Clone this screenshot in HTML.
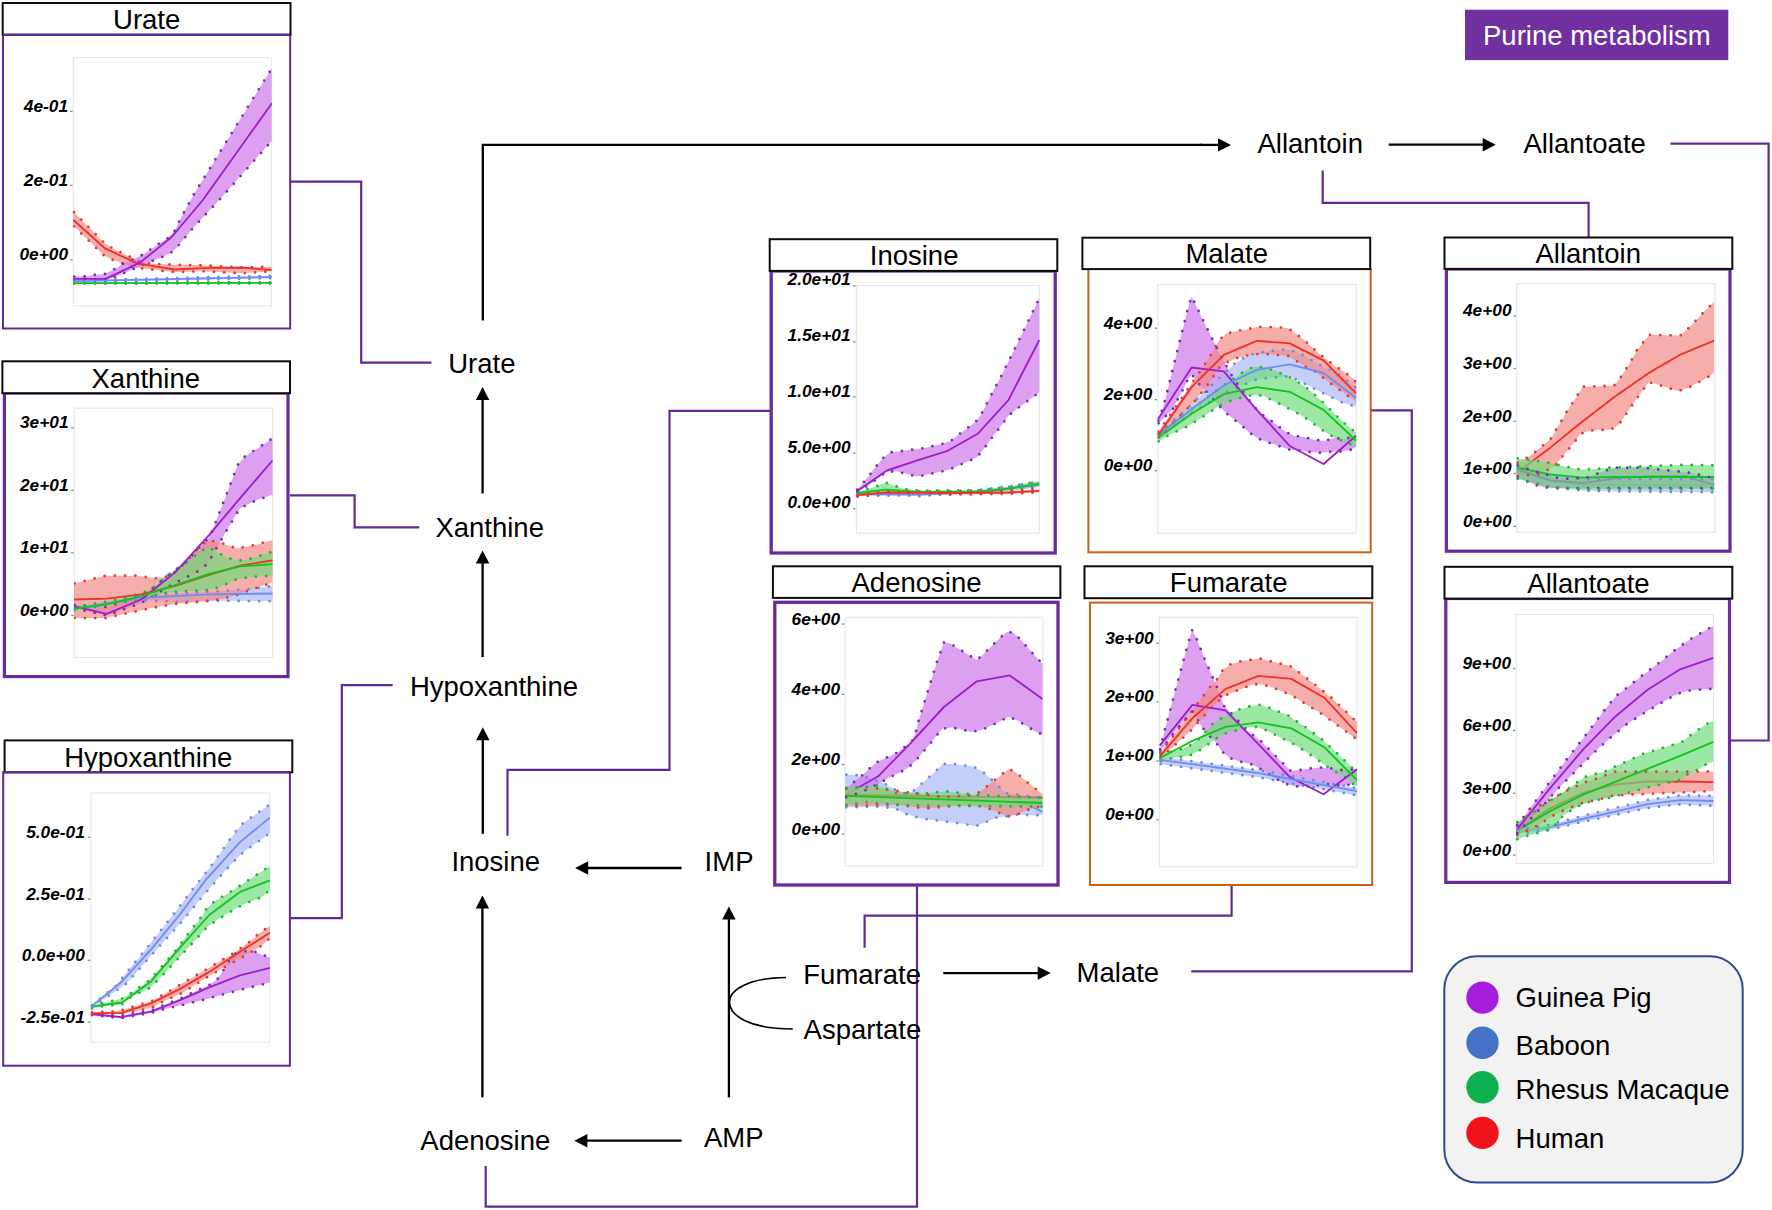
<!DOCTYPE html>
<html lang="en"><head><meta charset="utf-8"><title>Purine metabolism</title>
<style>
html,body{margin:0;padding:0;background:#fff;}
body{width:1772px;height:1210px;overflow:hidden;}
svg{display:block;}
text{font-family:'Liberation Sans', Arial, Helvetica, sans-serif;fill:#000;}
.tk{font-size:17.3px;font-weight:bold;font-style:italic;text-anchor:end;}
.tt{font-size:27.5px;text-anchor:middle;}
.lb{font-size:27.5px;}
.lg{font-size:27.5px;}
</style></head><body>
<svg width="1772" height="1210" viewBox="0 0 1772 1210">
<rect width="1772" height="1210" fill="#fff"/>
<g id="connectors">
<polyline points="290,181.7 361.2,181.7 361.2,362.7 431.4,362.7" fill="none" stroke="#5f2a92" stroke-width="2.2" stroke-linejoin="miter"/>
<polyline points="290,495.3 354.6,495.3 354.6,527.4 419.3,527.4" fill="none" stroke="#5f2a92" stroke-width="2.2" stroke-linejoin="miter"/>
<polyline points="290.6,918.2 341.8,918.2 341.8,685.2 392.7,685.2" fill="none" stroke="#5f2a92" stroke-width="2.2" stroke-linejoin="miter"/>
<polyline points="771,410.8 669.5,410.8 669.5,769.9 507.5,769.9 507.5,835.7" fill="none" stroke="#5f2a92" stroke-width="2.2" stroke-linejoin="miter"/>
<polyline points="485.7,1166 485.7,1206.6 917,1206.6 917,885" fill="none" stroke="#5f2a92" stroke-width="2.2" stroke-linejoin="miter"/>
<polyline points="864.6,947.7 864.6,915.6 1231.6,915.6 1231.6,885" fill="none" stroke="#5f2a92" stroke-width="2.2" stroke-linejoin="miter"/>
<polyline points="1191.2,971.4 1411.8,971.4 1411.8,410.3 1371.2,410.3" fill="none" stroke="#5f2a92" stroke-width="2.2" stroke-linejoin="miter"/>
<polyline points="1322.7,170.4 1322.7,202.8 1588.6,202.8 1588.6,238" fill="none" stroke="#5f2a92" stroke-width="2.2" stroke-linejoin="miter"/>
<polyline points="1670.5,143.7 1768.6,143.7 1768.6,740.5 1731,740.5" fill="none" stroke="#5f2a92" stroke-width="2.2" stroke-linejoin="miter"/>
</g>
<g class="panel">
<rect x="3" y="34.9" width="287.2" height="293.6" fill="#fff" stroke="#5f2a92" stroke-width="2"/>
<rect x="73.3" y="57.6" width="198.3" height="248.4" fill="#fff" stroke="#e6e6ea" stroke-width="1.1"/>
<clipPath id="c0"><rect x="72.8" y="57.6" width="199.3" height="248.4"/></clipPath>
<g clip-path="url(#c0)">
<polygon points="73.3,282.5 271.6,282.3 271.6,283.5 73.3,283.7" fill="#6ddc78" fill-opacity="0.68"/>
<polygon points="73.3,280.2 271.6,275.8 271.6,278.2 73.3,282.2" fill="#a8b7f4" fill-opacity="0.68"/>
<polygon points="73.3,211.5 103.5,242.2 111.9,248.1 139.9,261.7 149.6,263.6 174.3,264.7 202.9,265.3 241.8,267.5 271.6,266.8 271.6,271.2 241.8,273.3 202.9,271.3 174.3,272.1 134,267.5 113.2,260 104.2,255.8 73.3,225.6" fill="#f18881" fill-opacity="0.68"/>
<polygon points="73.3,276.6 84,276.6 94.4,275 104.8,274 113.9,269.5 123.6,263.6 141.8,255.2 159.4,243.5 167.8,238.3 174.9,230.5 179.5,220.8 184,212.3 194.4,193.4 271.6,68.6 271.6,141 221.7,197.3 193.1,227.9 179.5,244.2 172.3,251.9 163.2,256.5 153.5,260.4 134,268.8 124.9,272.7 105.5,280.6 73.3,280.6" fill="#cd73e9" fill-opacity="0.68"/>
<polyline points="73.3,282.5 271.6,282.3" fill="none" stroke="#1eb53a" stroke-width="2.8" stroke-linecap="round" stroke-dasharray="0 10.3" stroke-dashoffset="-1"/>
<polyline points="73.3,283.7 271.6,283.5" fill="none" stroke="#1eb53a" stroke-width="2.8" stroke-linecap="round" stroke-dasharray="0 10.3" stroke-dashoffset="-1"/>
<polyline points="73.3,280.2 271.6,275.8" fill="none" stroke="#6f8be0" stroke-width="2.8" stroke-linecap="round" stroke-dasharray="0 10.3" stroke-dashoffset="-1"/>
<polyline points="73.3,282.2 271.6,278.2" fill="none" stroke="#6f8be0" stroke-width="2.8" stroke-linecap="round" stroke-dasharray="0 10.3" stroke-dashoffset="-1"/>
<polyline points="73.3,211.5 103.5,242.2 111.9,248.1 139.9,261.7 149.6,263.6 174.3,264.7 202.9,265.3 241.8,267.5 271.6,266.8" fill="none" stroke="#e23a36" stroke-width="2.8" stroke-linecap="round" stroke-dasharray="0 10.3" stroke-dashoffset="-1"/>
<polyline points="73.3,225.6 104.2,255.8 113.2,260 134,267.5 174.3,272.1 202.9,271.3 241.8,273.3 271.6,271.2" fill="none" stroke="#e23a36" stroke-width="2.8" stroke-linecap="round" stroke-dasharray="0 10.3" stroke-dashoffset="-1"/>
<polyline points="73.3,276.6 84,276.6 94.4,275 104.8,274 113.9,269.5 123.6,263.6 141.8,255.2 159.4,243.5 167.8,238.3 174.9,230.5 179.5,220.8 184,212.3 194.4,193.4 271.6,68.6" fill="none" stroke="#7a2db8" stroke-width="2.8" stroke-linecap="round" stroke-dasharray="0 10.3" stroke-dashoffset="-1"/>
<polyline points="73.3,280.6 105.5,280.6 124.9,272.7 134,268.8 153.5,260.4 163.2,256.5 172.3,251.9 179.5,244.2 193.1,227.9 221.7,197.3 271.6,141" fill="none" stroke="#7a2db8" stroke-width="2.8" stroke-linecap="round" stroke-dasharray="0 10.3" stroke-dashoffset="-1"/>
<polyline points="73.3,283.1 271.7,282.9" fill="none" stroke="#12c41e" stroke-width="1.85" stroke-linejoin="round"/>
<polyline points="73.3,281.2 271.7,277" fill="none" stroke="#6f8cf2" stroke-width="1.85" stroke-linejoin="round"/>
<polyline points="73.3,220 105.5,248.7 137.9,263.6 174.3,269.5 202.9,268.2 241.8,267.5 271.7,270.1" fill="none" stroke="#f0302c" stroke-width="1.85" stroke-linejoin="round"/>
<polyline points="73.3,278.8 105.5,278.8 140.5,262.3 171.7,237 202.9,200 271.9,103.2" fill="none" stroke="#9b1fd0" stroke-width="1.85" stroke-linejoin="round"/>
</g>
<text x="68" y="111.9" class="tk">4e-01</text>
<line x1="70.1" y1="111.5" x2="72.5" y2="111.5" stroke="#8a8a8a" stroke-width="1.3"/>
<text x="68" y="185.8" class="tk">2e-01</text>
<line x1="70.1" y1="185.4" x2="72.5" y2="185.4" stroke="#8a8a8a" stroke-width="1.3"/>
<text x="68" y="260.2" class="tk">0e+00</text>
<line x1="70.1" y1="259.8" x2="72.5" y2="259.8" stroke="#8a8a8a" stroke-width="1.3"/>
<rect x="2.7" y="3" width="287.8" height="31.6" fill="#fff" stroke="#0d0d0d" stroke-width="2"/>
<text x="146.7" y="28.8" class="tt">Urate</text>
<line x1="3" y1="34.9" x2="290.2" y2="34.9" stroke="#5f2a92" stroke-width="2"/>
</g>
<g class="panel">
<rect x="4.4" y="393" width="283.6" height="283.6" fill="#fff" stroke="#672b9d" stroke-width="3.2"/>
<rect x="74.4" y="408.2" width="198.2" height="249.4" fill="#fff" stroke="#e6e6ea" stroke-width="1.1"/>
<clipPath id="c1"><rect x="73.9" y="408.2" width="199.2" height="249.4"/></clipPath>
<g clip-path="url(#c1)">
<polygon points="73.6,607.5 141.3,595.5 209,592 249.7,589 272.5,586 272.5,601.2 218.4,600.8 176.9,602 141.3,600 73.6,610" fill="#a8b7f4" fill-opacity="0.68"/>
<polygon points="73.6,604.8 106.6,607 141.3,596 152.3,588.4 168.4,574.9 185.3,563 195.5,551.2 208.2,538.5 211.6,532.6 219.2,513.1 226.8,493.6 237.8,464.8 244.6,456.8 261.6,445.7 272.5,438.4 272.5,494.8 258.2,499.5 248.9,503.8 239.5,508.8 234.5,517.3 223.4,535.9 213.3,553.7 208.2,563 200.6,569.8 191.3,574.9 175,583 141.3,603 106.6,615.5 73.6,608" fill="#cd73e9" fill-opacity="0.68"/>
<polygon points="73.6,583.6 105.7,575.7 136.2,575.7 156.5,578.3 170,576 185.3,563 195.5,551.2 207.4,540.2 218.4,541.9 237,548.6 257.3,544.4 272.5,540 272.5,582.6 259.9,586.8 249.7,590.1 239.5,594.4 218.4,599.5 198,602 176.9,603.7 156.5,607.1 136.2,611.3 116.7,615.5 105.7,618.1 73.6,618.1" fill="#f18881" fill-opacity="0.68"/>
<polygon points="73.6,607.1 106.6,602 141.3,593.5 152.3,588.4 168.4,574.9 185.3,563 195.5,555.4 207.4,547 215.8,551.2 224.3,556.3 233.6,559.7 243.8,560.5 253.1,558 263.3,554.6 272.5,551.8 272.5,575.6 257.3,576.6 247.2,577.4 237,579.1 227.7,583.4 217.5,587.6 207.4,590.1 187,591 166.7,592.7 141.3,598.6 73.6,610.5" fill="#6ddc78" fill-opacity="0.68"/>
<polyline points="73.6,607.5 141.3,595.5 209,592 249.7,589 272.5,586" fill="none" stroke="#6f8be0" stroke-width="2.8" stroke-linecap="round" stroke-dasharray="0 10.3" stroke-dashoffset="-1"/>
<polyline points="73.6,610 141.3,600 176.9,602 218.4,600.8 272.5,601.2" fill="none" stroke="#6f8be0" stroke-width="2.8" stroke-linecap="round" stroke-dasharray="0 10.3" stroke-dashoffset="-1"/>
<polyline points="73.6,604.8 106.6,607 141.3,596 152.3,588.4 168.4,574.9 185.3,563 195.5,551.2 208.2,538.5 211.6,532.6 219.2,513.1 226.8,493.6 237.8,464.8 244.6,456.8 261.6,445.7 272.5,438.4" fill="none" stroke="#7a2db8" stroke-width="2.8" stroke-linecap="round" stroke-dasharray="0 10.3" stroke-dashoffset="-1"/>
<polyline points="73.6,608 106.6,615.5 141.3,603 175,583 191.3,574.9 200.6,569.8 208.2,563 213.3,553.7 223.4,535.9 234.5,517.3 239.5,508.8 248.9,503.8 258.2,499.5 272.5,494.8" fill="none" stroke="#7a2db8" stroke-width="2.8" stroke-linecap="round" stroke-dasharray="0 10.3" stroke-dashoffset="-1"/>
<polyline points="73.6,583.6 105.7,575.7 136.2,575.7 156.5,578.3 170,576 185.3,563 195.5,551.2 207.4,540.2 218.4,541.9 237,548.6 257.3,544.4 272.5,540" fill="none" stroke="#e23a36" stroke-width="2.8" stroke-linecap="round" stroke-dasharray="0 10.3" stroke-dashoffset="-1"/>
<polyline points="73.6,618.1 105.7,618.1 116.7,615.5 136.2,611.3 156.5,607.1 176.9,603.7 198,602 218.4,599.5 239.5,594.4 249.7,590.1 259.9,586.8 272.5,582.6" fill="none" stroke="#e23a36" stroke-width="2.8" stroke-linecap="round" stroke-dasharray="0 10.3" stroke-dashoffset="-1"/>
<polyline points="73.6,607.1 106.6,602 141.3,593.5 152.3,588.4 168.4,574.9 185.3,563 195.5,555.4 207.4,547 215.8,551.2 224.3,556.3 233.6,559.7 243.8,560.5 253.1,558 263.3,554.6 272.5,551.8" fill="none" stroke="#1eb53a" stroke-width="2.8" stroke-linecap="round" stroke-dasharray="0 10.3" stroke-dashoffset="-1"/>
<polyline points="73.6,610.5 141.3,598.6 166.7,592.7 187,591 207.4,590.1 217.5,587.6 227.7,583.4 237,579.1 247.2,577.4 257.3,576.6 272.5,575.6" fill="none" stroke="#1eb53a" stroke-width="2.8" stroke-linecap="round" stroke-dasharray="0 10.3" stroke-dashoffset="-1"/>
<polyline points="73.6,608.8 141.3,597.8 209,594.4 272.5,593.5" fill="none" stroke="#6f8cf2" stroke-width="1.85" stroke-linejoin="round"/>
<polyline points="73.6,606.2 106.6,613.9 141.3,599.5 175.2,572.4 209,535.1 240.4,497.8 272.5,460.5" fill="none" stroke="#9b1fd0" stroke-width="1.85" stroke-linejoin="round"/>
<polyline points="73.6,599.5 106.6,598.6 141.3,594.4 175.2,585.9 209,574.9 240.4,565.6 272.5,560.4" fill="none" stroke="#f0302c" stroke-width="1.85" stroke-linejoin="round"/>
<polyline points="73.6,608.8 106.6,604.5 141.3,596.1 175.2,585.1 209,574 240.4,566.4 272.5,564.2" fill="none" stroke="#12c41e" stroke-width="1.85" stroke-linejoin="round"/>
</g>
<text x="68.5" y="428.2" class="tk">3e+01</text>
<line x1="71.2" y1="427.8" x2="73.6" y2="427.8" stroke="#8a8a8a" stroke-width="1.3"/>
<text x="68.5" y="490.8" class="tk">2e+01</text>
<line x1="71.2" y1="490.4" x2="73.6" y2="490.4" stroke="#8a8a8a" stroke-width="1.3"/>
<text x="68.5" y="553.2" class="tk">1e+01</text>
<line x1="71.2" y1="552.8" x2="73.6" y2="552.8" stroke="#8a8a8a" stroke-width="1.3"/>
<text x="68.5" y="615.8" class="tk">0e+00</text>
<line x1="71.2" y1="615.4" x2="73.6" y2="615.4" stroke="#8a8a8a" stroke-width="1.3"/>
<rect x="2.4" y="361.3" width="287.6" height="31.9" fill="#fff" stroke="#0d0d0d" stroke-width="2"/>
<text x="145.8" y="387.5" class="tt">Xanthine</text>
</g>
<g class="panel">
<rect x="3.2" y="772.2" width="286.7" height="293.5" fill="#fff" stroke="#5f2a92" stroke-width="2"/>
<rect x="91" y="793" width="178.9" height="249.2" fill="#fff" stroke="#e6e6ea" stroke-width="1.1"/>
<clipPath id="c2"><rect x="90.5" y="793" width="179.9" height="249.2"/></clipPath>
<g clip-path="url(#c2)">
<polygon points="91,1013.2 120.9,1016.2 151.1,1010.4 179.5,998.8 209.2,985 217.5,979 223.4,970.1 228.7,961.2 234.1,954.1 244.1,951.5 252.4,950.6 261.9,954.7 269.9,957.5 269.9,982.6 244.7,988.7 224.6,994 205,999.4 184.3,1004.5 163.6,1009.2 151.1,1012.8 120.9,1018.2 91,1015" fill="#cd73e9" fill-opacity="0.68"/>
<polygon points="91,1012.4 112.6,1011.6 122.7,1009.8 152.3,1000.9 170.7,990.3 206.2,969.5 234.1,952.9 250.7,941.1 258.4,934 269.9,925.6 269.9,938 262.5,945.2 244.7,955.9 226.4,966 208,976.6 181.9,993.2 163,1001.5 153.5,1006.8 142.8,1009.8 121.5,1014 91,1014.4" fill="#f18881" fill-opacity="0.68"/>
<polygon points="91,1005.6 112.6,1000.9 122.1,998.6 131,993.2 148.7,980.8 162.4,966 176,950 188.4,933.4 201.5,916.8 206.8,908.2 214.5,901.4 232.3,890.7 250.1,879.1 269.9,866.2 269.9,890 261.9,897 243,904.7 233.5,909.9 216.3,920.4 207.4,926.9 186.1,950 164.7,973.1 149.9,987.9 131,996.8 122.1,1004.4 102.5,1006.3 91,1008.6" fill="#6ddc78" fill-opacity="0.68"/>
<polygon points="91,1006 115.6,986.1 148.1,946.4 173.6,914.2 192.6,889.3 212.1,864.7 229.9,839.2 236.4,830.9 243,823.2 251.2,817.5 269.9,804.4 269.9,833.2 244.1,851.6 236.4,858.7 222.2,874.1 201.5,897.6 181.9,921.5 153.5,952.9 125.6,984.3 91,1007.8" fill="#a8b7f4" fill-opacity="0.68"/>
<polyline points="91,1013.2 120.9,1016.2 151.1,1010.4 179.5,998.8 209.2,985 217.5,979 223.4,970.1 228.7,961.2 234.1,954.1 244.1,951.5 252.4,950.6 261.9,954.7 269.9,957.5" fill="none" stroke="#7a2db8" stroke-width="2.8" stroke-linecap="round" stroke-dasharray="0 10.3" stroke-dashoffset="-1"/>
<polyline points="91,1015 120.9,1018.2 151.1,1012.8 163.6,1009.2 184.3,1004.5 205,999.4 224.6,994 244.7,988.7 269.9,982.6" fill="none" stroke="#7a2db8" stroke-width="2.8" stroke-linecap="round" stroke-dasharray="0 10.3" stroke-dashoffset="-1"/>
<polyline points="91,1012.4 112.6,1011.6 122.7,1009.8 152.3,1000.9 170.7,990.3 206.2,969.5 234.1,952.9 250.7,941.1 258.4,934 269.9,925.6" fill="none" stroke="#e23a36" stroke-width="2.8" stroke-linecap="round" stroke-dasharray="0 10.3" stroke-dashoffset="-1"/>
<polyline points="91,1014.4 121.5,1014 142.8,1009.8 153.5,1006.8 163,1001.5 181.9,993.2 208,976.6 226.4,966 244.7,955.9 262.5,945.2 269.9,938" fill="none" stroke="#e23a36" stroke-width="2.8" stroke-linecap="round" stroke-dasharray="0 10.3" stroke-dashoffset="-1"/>
<polyline points="91,1005.6 112.6,1000.9 122.1,998.6 131,993.2 148.7,980.8 162.4,966 176,950 188.4,933.4 201.5,916.8 206.8,908.2 214.5,901.4 232.3,890.7 250.1,879.1 269.9,866.2" fill="none" stroke="#1eb53a" stroke-width="2.8" stroke-linecap="round" stroke-dasharray="0 10.3" stroke-dashoffset="-1"/>
<polyline points="91,1008.6 102.5,1006.3 122.1,1004.4 131,996.8 149.9,987.9 164.7,973.1 186.1,950 207.4,926.9 216.3,920.4 233.5,909.9 243,904.7 261.9,897 269.9,890" fill="none" stroke="#1eb53a" stroke-width="2.8" stroke-linecap="round" stroke-dasharray="0 10.3" stroke-dashoffset="-1"/>
<polyline points="91,1006 115.6,986.1 148.1,946.4 173.6,914.2 192.6,889.3 212.1,864.7 229.9,839.2 236.4,830.9 243,823.2 251.2,817.5 269.9,804.4" fill="none" stroke="#6f8be0" stroke-width="2.8" stroke-linecap="round" stroke-dasharray="0 10.3" stroke-dashoffset="-1"/>
<polyline points="91,1007.8 125.6,984.3 153.5,952.9 181.9,921.5 201.5,897.6 222.2,874.1 236.4,858.7 244.1,851.6 269.9,833.2" fill="none" stroke="#6f8be0" stroke-width="2.8" stroke-linecap="round" stroke-dasharray="0 10.3" stroke-dashoffset="-1"/>
<polyline points="91,1014 120.9,1017.2 151.1,1011.6 179.5,1000.3 209.2,987.3 240,975.4 269.9,967.8" fill="none" stroke="#9b1fd0" stroke-width="1.85" stroke-linejoin="round"/>
<polyline points="91,1013.4 121.5,1012.8 151.1,1003.3 179.5,989.1 209.2,971.9 240,951.7 269.9,932.8" fill="none" stroke="#f0302c" stroke-width="1.85" stroke-linejoin="round"/>
<polyline points="91,1006.8 102.5,1005.1 122.1,1002.5 151.1,981.4 179.5,948.2 209.2,915 240,891.9 269.9,880.4" fill="none" stroke="#12c41e" stroke-width="1.85" stroke-linejoin="round"/>
<polyline points="91,1006.8 121.5,982 151.1,949.4 179.5,915 205.6,880.1 240,842.1 269.9,817.6" fill="none" stroke="#6f8cf2" stroke-width="1.85" stroke-linejoin="round"/>
</g>
<text x="84.8" y="837.7" class="tk">5.0e-01</text>
<line x1="87.8" y1="837.3" x2="90.2" y2="837.3" stroke="#8a8a8a" stroke-width="1.3"/>
<text x="84.8" y="899.5" class="tk">2.5e-01</text>
<line x1="87.8" y1="899.1" x2="90.2" y2="899.1" stroke="#8a8a8a" stroke-width="1.3"/>
<text x="84.8" y="960.7" class="tk">0.0e+00</text>
<line x1="87.8" y1="960.3" x2="90.2" y2="960.3" stroke="#8a8a8a" stroke-width="1.3"/>
<text x="84.8" y="1022.5" class="tk">-2.5e-01</text>
<line x1="87.8" y1="1022.1" x2="90.2" y2="1022.1" stroke="#8a8a8a" stroke-width="1.3"/>
<rect x="4.6" y="740.4" width="287.7" height="31.9" fill="#fff" stroke="#0d0d0d" stroke-width="2"/>
<text x="148.3" y="767" class="tt">Hypoxanthine</text>
<line x1="3.2" y1="772.2" x2="289.9" y2="772.2" stroke="#5f2a92" stroke-width="2"/>
</g>
<g class="panel">
<rect x="771.2" y="271" width="284" height="282" fill="#fff" stroke="#672b9d" stroke-width="3.3"/>
<rect x="856.3" y="285.5" width="183.1" height="247.7" fill="#fff" stroke="#e6e6ea" stroke-width="1.1"/>
<clipPath id="c3"><rect x="855.8" y="285.5" width="184.1" height="247.7"/></clipPath>
<g clip-path="url(#c3)">
<polygon points="856.6,492.5 918.2,492.8 977.7,490 1008.5,486.4 1039.3,482 1039.3,487.2 1008.5,490.8 977.7,493.8 938.6,494.7 918.2,496.3 907,495.5 856.6,495.8" fill="#a8b7f4" fill-opacity="0.68"/>
<polygon points="856.6,491.9 876.4,486.4 885.8,482.6 896.2,486.4 906.1,489.2 918.2,490.6 977.7,490.3 1008.5,487 1039.3,480.9 1039.3,485.9 1008.5,490.8 977.7,493.6 918.2,494.1 885.8,491.9 856.6,496.3" fill="#6ddc78" fill-opacity="0.68"/>
<polygon points="856.6,493.8 886.9,491 946.8,491.6 1008.5,491 1039.3,489.4 1039.3,492.2 1008.5,494 946.8,494.4 886.9,494 856.6,496.6" fill="#f18881" fill-opacity="0.68"/>
<polygon points="856.6,490.4 862.7,483.4 869.6,474.9 875.9,466.8 882.2,458.7 889.8,452.5 900.1,451.2 920.4,448.8 941.1,444.3 951,440.8 958.9,434.4 975.5,422.1 981.7,413.5 991.2,394.8 1001,376.6 1019.5,339.1 1039.3,298.2 1039.3,392.3 1016.2,409.4 1008.1,416 1001.9,424.8 989.2,441.3 983.2,449.8 976.6,457.5 957.6,465.9 947.9,470.1 927.6,474.5 917.3,476.5 907.2,474.1 897.1,471.6 886.9,471.4 872,482.6 856.6,492.6" fill="#cd73e9" fill-opacity="0.68"/>
<polyline points="856.6,492.5 918.2,492.8 977.7,490 1008.5,486.4 1039.3,482" fill="none" stroke="#6f8be0" stroke-width="2.8" stroke-linecap="round" stroke-dasharray="0 10.3" stroke-dashoffset="-1"/>
<polyline points="856.6,495.8 907,495.5 918.2,496.3 938.6,494.7 977.7,493.8 1008.5,490.8 1039.3,487.2" fill="none" stroke="#6f8be0" stroke-width="2.8" stroke-linecap="round" stroke-dasharray="0 10.3" stroke-dashoffset="-1"/>
<polyline points="856.6,491.9 876.4,486.4 885.8,482.6 896.2,486.4 906.1,489.2 918.2,490.6 977.7,490.3 1008.5,487 1039.3,480.9" fill="none" stroke="#1eb53a" stroke-width="2.8" stroke-linecap="round" stroke-dasharray="0 10.3" stroke-dashoffset="-1"/>
<polyline points="856.6,496.3 885.8,491.9 918.2,494.1 977.7,493.6 1008.5,490.8 1039.3,485.9" fill="none" stroke="#1eb53a" stroke-width="2.8" stroke-linecap="round" stroke-dasharray="0 10.3" stroke-dashoffset="-1"/>
<polyline points="856.6,493.8 886.9,491 946.8,491.6 1008.5,491 1039.3,489.4" fill="none" stroke="#e23a36" stroke-width="2.8" stroke-linecap="round" stroke-dasharray="0 10.3" stroke-dashoffset="-1"/>
<polyline points="856.6,496.6 886.9,494 946.8,494.4 1008.5,494 1039.3,492.2" fill="none" stroke="#e23a36" stroke-width="2.8" stroke-linecap="round" stroke-dasharray="0 10.3" stroke-dashoffset="-1"/>
<polyline points="856.6,490.4 862.7,483.4 869.6,474.9 875.9,466.8 882.2,458.7 889.8,452.5 900.1,451.2 920.4,448.8 941.1,444.3 951,440.8 958.9,434.4 975.5,422.1 981.7,413.5 991.2,394.8 1001,376.6 1019.5,339.1 1039.3,298.2" fill="none" stroke="#7a2db8" stroke-width="2.8" stroke-linecap="round" stroke-dasharray="0 10.3" stroke-dashoffset="-1"/>
<polyline points="856.6,492.6 872,482.6 886.9,471.4 897.1,471.6 907.2,474.1 917.3,476.5 927.6,474.5 947.9,470.1 957.6,465.9 976.6,457.5 983.2,449.8 989.2,441.3 1001.9,424.8 1008.1,416 1016.2,409.4 1039.3,392.3" fill="none" stroke="#7a2db8" stroke-width="2.8" stroke-linecap="round" stroke-dasharray="0 10.3" stroke-dashoffset="-1"/>
<polyline points="856.6,494.1 918.2,494.7 977.7,491.9 1008.5,488.6 1039.3,484.8" fill="none" stroke="#6f8cf2" stroke-width="1.85" stroke-linejoin="round"/>
<polyline points="856.6,493 886.3,489.7 918.2,491.9 977.7,491.9 1008.5,488.6 1039.3,483.7" fill="none" stroke="#12c41e" stroke-width="1.85" stroke-linejoin="round"/>
<polyline points="856.6,495.2 886.9,492.5 946.8,493 1008.5,492.5 1039.3,490.8" fill="none" stroke="#f0302c" stroke-width="1.85" stroke-linejoin="round"/>
<polyline points="856.6,491.4 886.9,470.5 916.6,460.6 946.8,451.2 977.7,433.8 1008.5,400 1039.3,340" fill="none" stroke="#9b1fd0" stroke-width="1.85" stroke-linejoin="round"/>
</g>
<text x="850.5" y="285.3" class="tk">2.0e+01</text>
<line x1="853.1" y1="285.7" x2="855.5" y2="285.7" stroke="#8a8a8a" stroke-width="1.3"/>
<text x="850.5" y="341.4" class="tk">1.5e+01</text>
<line x1="853.1" y1="341.8" x2="855.5" y2="341.8" stroke="#8a8a8a" stroke-width="1.3"/>
<text x="850.5" y="396.5" class="tk">1.0e+01</text>
<line x1="853.1" y1="396.9" x2="855.5" y2="396.9" stroke="#8a8a8a" stroke-width="1.3"/>
<text x="850.5" y="452.7" class="tk">5.0e+00</text>
<line x1="853.1" y1="453.1" x2="855.5" y2="453.1" stroke="#8a8a8a" stroke-width="1.3"/>
<text x="850.5" y="508.3" class="tk">0.0e+00</text>
<line x1="853.1" y1="508.7" x2="855.5" y2="508.7" stroke="#8a8a8a" stroke-width="1.3"/>
<rect x="769.7" y="239.2" width="287.6" height="31.7" fill="#fff" stroke="#0d0d0d" stroke-width="2"/>
<text x="914.1" y="265" class="tt">Inosine</text>
</g>
<g class="panel">
<rect x="1088.4" y="269" width="282.3" height="283.3" fill="#fff" stroke="#cb5f14" stroke-width="2"/>
<rect x="1157.8" y="284.5" width="198.5" height="248.8" fill="#fff" stroke="#e6e6ea" stroke-width="1.1"/>
<clipPath id="c4"><rect x="1157.3" y="284.5" width="199.5" height="248.8"/></clipPath>
<g clip-path="url(#c4)">
<polygon points="1157.9,421.6 1163.4,406.7 1168.5,386.3 1173.6,365.9 1178.6,345.5 1183.8,325.1 1188.9,304.6 1191.6,296.8 1195.9,305.4 1205,324.3 1214.4,343.1 1219.1,352.5 1226.5,366 1234.8,380.8 1241.1,388.7 1252.1,404.4 1259.9,413 1275.6,424 1284.3,431.1 1293.7,435.8 1303.9,437 1314.1,439.7 1324.3,441 1333.8,438.1 1344.8,438.9 1356.1,435.8 1356.1,446.8 1350.3,449.9 1340.8,451.5 1329.8,451.8 1319.6,452.7 1308.6,451.8 1289,449.6 1278.8,446 1269.4,442.8 1259.2,438.9 1250.5,433.4 1243.5,427.1 1234.8,420.1 1227,413.8 1219.1,405.9 1212.9,398.8 1205.4,390.5 1198,383 1191.8,374.4 1186.8,381.4 1182.3,390.9 1177.3,400 1172.8,409.1 1157.9,424" fill="#cd73e9" fill-opacity="0.68"/>
<polygon points="1157.9,434.2 1191.6,404.4 1214.4,382.4 1234.8,363.5 1245.8,356.5 1256.8,353 1275.6,350.6 1285.9,349.4 1296.1,351.7 1305.5,356.5 1322.8,366.7 1332.2,370.6 1340.8,376.1 1349.5,382.4 1356.1,388 1356.1,406.7 1340.8,402 1323.5,393.4 1289.8,376.1 1256.8,379.2 1223.8,393.4 1191.6,413 1157.9,438.1" fill="#a8b7f4" fill-opacity="0.68"/>
<polygon points="1157.9,432.6 1209.7,357.2 1219.1,340 1226.2,333.7 1236.4,330.9 1246.6,329.4 1256.8,326.9 1267,326.9 1287.4,327.9 1296.1,333.7 1303.9,340 1319.6,354.1 1336.1,366.7 1344.8,372.2 1353.4,379.2 1356.1,382.4 1356.1,401.2 1348.7,396.5 1331.4,383.9 1314.9,371.4 1305.5,366.7 1296.9,361.2 1288.2,356 1267,354.1 1256.8,354.1 1246.6,355.7 1237.2,358 1227.7,362 1219.9,366.7 1208.9,383.2 1195.5,400.4 1157.9,438.1" fill="#f18881" fill-opacity="0.68"/>
<polygon points="1157.9,434.2 1191.6,409.1 1212.8,393.4 1223.8,385.5 1244.2,371.4 1253.7,366.7 1264.7,367.5 1274.1,370.6 1292.9,378.5 1308.6,389.4 1324.3,403.6 1340,419.3 1347.9,426.3 1356.1,432.6 1356.1,446.8 1344.8,442 1333.8,437.3 1325.9,432.6 1308.6,420.1 1300,414.6 1291.4,409.9 1272.5,400.4 1263.1,395.7 1252.9,394.9 1242.7,397.3 1231.7,400.4 1219.1,405.9 1205,415.4 1187.7,426.3 1168.8,435 1157.9,442" fill="#6ddc78" fill-opacity="0.68"/>
<polyline points="1157.9,421.6 1163.4,406.7 1168.5,386.3 1173.6,365.9 1178.6,345.5 1183.8,325.1 1188.9,304.6 1191.6,296.8 1195.9,305.4 1205,324.3 1214.4,343.1 1219.1,352.5 1226.5,366 1234.8,380.8 1241.1,388.7 1252.1,404.4 1259.9,413 1275.6,424 1284.3,431.1 1293.7,435.8 1303.9,437 1314.1,439.7 1324.3,441 1333.8,438.1 1344.8,438.9 1356.1,435.8" fill="none" stroke="#7a2db8" stroke-width="2.8" stroke-linecap="round" stroke-dasharray="0 10.3" stroke-dashoffset="-1"/>
<polyline points="1157.9,424 1172.8,409.1 1177.3,400 1182.3,390.9 1186.8,381.4 1191.8,374.4 1198,383 1205.4,390.5 1212.9,398.8 1219.1,405.9 1227,413.8 1234.8,420.1 1243.5,427.1 1250.5,433.4 1259.2,438.9 1269.4,442.8 1278.8,446 1289,449.6 1308.6,451.8 1319.6,452.7 1329.8,451.8 1340.8,451.5 1350.3,449.9 1356.1,446.8" fill="none" stroke="#7a2db8" stroke-width="2.8" stroke-linecap="round" stroke-dasharray="0 10.3" stroke-dashoffset="-1"/>
<polyline points="1157.9,434.2 1191.6,404.4 1214.4,382.4 1234.8,363.5 1245.8,356.5 1256.8,353 1275.6,350.6 1285.9,349.4 1296.1,351.7 1305.5,356.5 1322.8,366.7 1332.2,370.6 1340.8,376.1 1349.5,382.4 1356.1,388" fill="none" stroke="#6f8be0" stroke-width="2.8" stroke-linecap="round" stroke-dasharray="0 10.3" stroke-dashoffset="-1"/>
<polyline points="1157.9,438.1 1191.6,413 1223.8,393.4 1256.8,379.2 1289.8,376.1 1323.5,393.4 1340.8,402 1356.1,406.7" fill="none" stroke="#6f8be0" stroke-width="2.8" stroke-linecap="round" stroke-dasharray="0 10.3" stroke-dashoffset="-1"/>
<polyline points="1157.9,432.6 1209.7,357.2 1219.1,340 1226.2,333.7 1236.4,330.9 1246.6,329.4 1256.8,326.9 1267,326.9 1287.4,327.9 1296.1,333.7 1303.9,340 1319.6,354.1 1336.1,366.7 1344.8,372.2 1353.4,379.2 1356.1,382.4" fill="none" stroke="#e23a36" stroke-width="2.8" stroke-linecap="round" stroke-dasharray="0 10.3" stroke-dashoffset="-1"/>
<polyline points="1157.9,438.1 1195.5,400.4 1208.9,383.2 1219.9,366.7 1227.7,362 1237.2,358 1246.6,355.7 1256.8,354.1 1267,354.1 1288.2,356 1296.9,361.2 1305.5,366.7 1314.9,371.4 1331.4,383.9 1348.7,396.5 1356.1,401.2" fill="none" stroke="#e23a36" stroke-width="2.8" stroke-linecap="round" stroke-dasharray="0 10.3" stroke-dashoffset="-1"/>
<polyline points="1157.9,434.2 1191.6,409.1 1212.8,393.4 1223.8,385.5 1244.2,371.4 1253.7,366.7 1264.7,367.5 1274.1,370.6 1292.9,378.5 1308.6,389.4 1324.3,403.6 1340,419.3 1347.9,426.3 1356.1,432.6" fill="none" stroke="#1eb53a" stroke-width="2.8" stroke-linecap="round" stroke-dasharray="0 10.3" stroke-dashoffset="-1"/>
<polyline points="1157.9,442 1168.8,435 1187.7,426.3 1205,415.4 1219.1,405.9 1231.7,400.4 1242.7,397.3 1252.9,394.9 1263.1,395.7 1272.5,400.4 1291.4,409.9 1300,414.6 1308.6,420.1 1325.9,432.6 1333.8,437.3 1344.8,442 1356.1,446.8" fill="none" stroke="#1eb53a" stroke-width="2.8" stroke-linecap="round" stroke-dasharray="0 10.3" stroke-dashoffset="-1"/>
<polyline points="1157.9,419.3 1191.6,367.5 1223.8,371.4 1256.8,409.8 1289.8,446 1323.5,464 1356.1,435.8" fill="none" stroke="#9b1fd0" stroke-width="1.85" stroke-linejoin="round"/>
<polyline points="1157.9,435.8 1191.6,409.1 1223.8,385.5 1256.8,369.8 1289.8,364.3 1323.5,373 1356.1,398.1" fill="none" stroke="#6f8cf2" stroke-width="1.85" stroke-linejoin="round"/>
<polyline points="1157.9,435.8 1191.6,387.1 1223.8,354.9 1256.8,340.8 1289.8,343.4 1323.5,360.4 1356.1,393.4" fill="none" stroke="#f0302c" stroke-width="1.85" stroke-linejoin="round"/>
<polyline points="1157.9,438.1 1191.6,413.8 1223.8,394.2 1256.8,387.1 1289.8,391.8 1323.5,409.9 1356.1,440.5" fill="none" stroke="#12c41e" stroke-width="1.85" stroke-linejoin="round"/>
</g>
<text x="1152.3" y="328.6" class="tk">4e+00</text>
<line x1="1154.6" y1="328.2" x2="1157" y2="328.2" stroke="#8a8a8a" stroke-width="1.3"/>
<text x="1152.3" y="400" class="tk">2e+00</text>
<line x1="1154.6" y1="399.6" x2="1157" y2="399.6" stroke="#8a8a8a" stroke-width="1.3"/>
<text x="1152.3" y="471.2" class="tk">0e+00</text>
<line x1="1154.6" y1="470.8" x2="1157" y2="470.8" stroke="#8a8a8a" stroke-width="1.3"/>
<rect x="1082.4" y="237.7" width="287.8" height="31.4" fill="#fff" stroke="#0d0d0d" stroke-width="2"/>
<text x="1226.7" y="263.4" class="tt">Malate</text>
</g>
<g class="panel">
<rect x="1446.4" y="269" width="283.6" height="282.2" fill="#fff" stroke="#672b9d" stroke-width="3.2"/>
<rect x="1516.7" y="283.7" width="198.3" height="248.5" fill="#fff" stroke="#e6e6ea" stroke-width="1.1"/>
<clipPath id="c5"><rect x="1516.2" y="283.7" width="199.3" height="248.5"/></clipPath>
<g clip-path="url(#c5)">
<polygon points="1516.8,463.2 1526.1,458.4 1534.6,452.5 1550.6,438.9 1555.7,430.5 1566.7,411.8 1577.7,394.9 1583.2,386.8 1593.8,386.4 1614.1,385.6 1620.9,377.1 1631.9,359.4 1637,350 1643.8,341.6 1649.7,334.8 1659.9,335.1 1680.2,335.6 1687.8,328.9 1703.1,312.8 1714.1,301.8 1714.1,372.9 1705.6,378.5 1687,388.5 1678,391 1658.2,384.8 1648.9,382.2 1636.2,399.1 1624.8,416.1 1618.4,425.1 1610.8,429.6 1589.6,430.5 1580.3,433.9 1574.4,442.3 1560.8,458.4 1554.9,466 1540,474 1516.8,476" fill="#f18881" fill-opacity="0.68"/>
<polyline points="1516.8,472.8 1550.6,447.4 1582.8,421.2 1615,396.6 1648.9,372.9 1681,354.3 1714.1,340.7" fill="none" stroke="#f0302c" stroke-width="1.85" stroke-linejoin="round"/>
<polygon points="1516.8,466 1550.6,475 1582.8,479 1714.1,479 1714.1,492.3 1598,491.2 1582.8,490.5 1550.6,487.5 1516.8,478" fill="#a8b7f4" fill-opacity="0.68"/>
<polyline points="1516.8,471 1550.6,481.5 1582.8,484.7 1714.1,485.5" fill="none" stroke="#6f8cf2" stroke-width="1.85" stroke-linejoin="round"/>
<polygon points="1516.8,465 1526.9,468.6 1536.2,472 1546.4,474.5 1556.6,477.9 1566.7,478.7 1587.1,477.6 1597.2,473.7 1606.5,470.3 1616.7,467.7 1637,467.7 1647.2,468.1 1667.5,470.3 1687.8,472.5 1698,474.5 1714.1,478.4 1714.1,488.1 1557.4,488.1 1547.3,487.7 1537.1,485.5 1526.9,481.3 1516.8,477" fill="#cd73e9" fill-opacity="0.68"/>
<polyline points="1516.8,469.4 1550.6,480.4 1582.8,483 1615,478.7 1648.9,476.2 1686.1,476.2 1698,480.4 1714.1,484.7" fill="none" stroke="#9b1fd0" stroke-width="1.85" stroke-linejoin="round"/>
<polygon points="1516.8,458.2 1537.9,461 1548.1,462.7 1569.3,467.4 1579.4,469.4 1589.6,469.4 1609.9,467.7 1681,464.9 1714.1,465.2 1714.1,489 1582.8,489 1550.6,487 1516.8,478.7" fill="#6ddc78" fill-opacity="0.68"/>
<polyline points="1516.8,467.7 1550.6,474.5 1582.8,477.6 1615,477 1714.1,477" fill="none" stroke="#12c41e" stroke-width="1.85" stroke-linejoin="round"/>
<polyline points="1516.8,463.2 1526.1,458.4 1534.6,452.5 1550.6,438.9 1555.7,430.5 1566.7,411.8 1577.7,394.9 1583.2,386.8 1593.8,386.4 1614.1,385.6 1620.9,377.1 1631.9,359.4 1637,350 1643.8,341.6 1649.7,334.8 1659.9,335.1 1680.2,335.6 1687.8,328.9 1703.1,312.8 1714.1,301.8" fill="none" stroke="#e23a36" stroke-width="2.8" stroke-linecap="round" stroke-dasharray="0 10.3" stroke-dashoffset="-1"/>
<polyline points="1516.8,476 1540,474 1554.9,466 1560.8,458.4 1574.4,442.3 1580.3,433.9 1589.6,430.5 1610.8,429.6 1618.4,425.1 1624.8,416.1 1636.2,399.1 1648.9,382.2 1658.2,384.8 1678,391 1687,388.5 1705.6,378.5 1714.1,372.9" fill="none" stroke="#e23a36" stroke-width="2.8" stroke-linecap="round" stroke-dasharray="0 10.3" stroke-dashoffset="-1"/>
<polyline points="1516.8,466 1550.6,475 1582.8,479 1714.1,479" fill="none" stroke="#6f8be0" stroke-width="2.8" stroke-linecap="round" stroke-dasharray="0 10.3" stroke-dashoffset="-1"/>
<polyline points="1516.8,478 1550.6,487.5 1582.8,490.5 1598,491.2 1714.1,492.3" fill="none" stroke="#6f8be0" stroke-width="2.8" stroke-linecap="round" stroke-dasharray="0 10.3" stroke-dashoffset="-1"/>
<polyline points="1516.8,465 1526.9,468.6 1536.2,472 1546.4,474.5 1556.6,477.9 1566.7,478.7 1587.1,477.6 1597.2,473.7 1606.5,470.3 1616.7,467.7 1637,467.7 1647.2,468.1 1667.5,470.3 1687.8,472.5 1698,474.5 1714.1,478.4" fill="none" stroke="#7a2db8" stroke-width="2.8" stroke-linecap="round" stroke-dasharray="0 10.3" stroke-dashoffset="-1"/>
<polyline points="1516.8,477 1526.9,481.3 1537.1,485.5 1547.3,487.7 1557.4,488.1 1714.1,488.1" fill="none" stroke="#7a2db8" stroke-width="2.8" stroke-linecap="round" stroke-dasharray="0 10.3" stroke-dashoffset="-1"/>
<polyline points="1516.8,458.2 1537.9,461 1548.1,462.7 1569.3,467.4 1579.4,469.4 1589.6,469.4 1609.9,467.7 1681,464.9 1714.1,465.2" fill="none" stroke="#1eb53a" stroke-width="2.8" stroke-linecap="round" stroke-dasharray="0 10.3" stroke-dashoffset="-1"/>
<polyline points="1516.8,478.7 1550.6,487 1582.8,489 1714.1,489" fill="none" stroke="#1eb53a" stroke-width="2.8" stroke-linecap="round" stroke-dasharray="0 10.3" stroke-dashoffset="-1"/>
</g>
<text x="1511.5" y="316.3" class="tk">4e+00</text>
<line x1="1513.5" y1="315.9" x2="1515.9" y2="315.9" stroke="#8a8a8a" stroke-width="1.3"/>
<text x="1511.5" y="368.9" class="tk">3e+00</text>
<line x1="1513.5" y1="368.5" x2="1515.9" y2="368.5" stroke="#8a8a8a" stroke-width="1.3"/>
<text x="1511.5" y="421.8" class="tk">2e+00</text>
<line x1="1513.5" y1="421.4" x2="1515.9" y2="421.4" stroke="#8a8a8a" stroke-width="1.3"/>
<text x="1511.5" y="473.9" class="tk">1e+00</text>
<line x1="1513.5" y1="473.5" x2="1515.9" y2="473.5" stroke="#8a8a8a" stroke-width="1.3"/>
<text x="1511.5" y="526.8" class="tk">0e+00</text>
<line x1="1513.5" y1="526.4" x2="1515.9" y2="526.4" stroke="#8a8a8a" stroke-width="1.3"/>
<rect x="1444.5" y="237.5" width="287.8" height="31.4" fill="#fff" stroke="#0d0d0d" stroke-width="2"/>
<text x="1588.2" y="263.4" class="tt">Allantoin</text>
</g>
<g class="panel">
<rect x="774.8" y="602.3" width="283.2" height="282.7" fill="#fff" stroke="#672b9d" stroke-width="3.3"/>
<rect x="845.1" y="617.3" width="197.7" height="248.7" fill="#fff" stroke="#e6e6ea" stroke-width="1.1"/>
<clipPath id="c6"><rect x="844.6" y="617.3" width="198.7" height="248.7"/></clipPath>
<g clip-path="url(#c6)">
<polygon points="845.3,774.6 856,775.1 868,777.5 884.4,783.4 893.3,788.8 903.1,793.2 911.9,792.3 919.9,785.2 935.9,771 943,763.9 952.8,763.9 973.2,766.6 982.1,771.4 990.1,778.1 1006.1,793.2 1042.5,797.7 1042.5,814.5 1035.4,815.4 1017.7,814.5 1007.9,816.3 995.4,817.7 985.7,822.2 975.9,826.1 966.1,824.3 945.7,821.6 925.3,819 914.6,816.7 904.8,813.6 896,808.8 880,806.5 845.3,807.4" fill="#a8b7f4" fill-opacity="0.68"/>
<polyline points="845.3,795 943.9,797.7 1024.8,803 1042.5,811.9" fill="none" stroke="#6f8cf2" stroke-width="1.85" stroke-linejoin="round"/>
<polygon points="845.3,789 853.3,782.5 861.3,776.3 868.4,769.2 877.3,762.1 886.2,757.7 896,753.2 911.9,741.7 915.5,732.8 918.2,722.1 927.4,692.5 936.8,662.3 943.9,642.6 949.3,643.1 958.1,648.4 976.8,660 983.9,653.8 999,638.7 1007,632.1 1013.7,632.8 1021.2,640.4 1035.1,656.1 1042.5,663.8 1042.5,734.6 1035.4,731.4 1017.7,720.7 1008.8,716.8 990.1,726.2 981.2,730.1 971.5,731.9 961.7,729.6 951.9,727.5 942.2,728.7 928.8,745.2 915.5,760.9 908.4,767.5 899.5,772.8 889.7,777.2 880.9,782.5 863.1,791.4 845.3,797.7" fill="#cd73e9" fill-opacity="0.68"/>
<polyline points="845.3,795 878.2,776.3 911.1,742.6 943.9,707 976.8,681.3 1009.7,675.4 1042.5,699" fill="none" stroke="#9b1fd0" stroke-width="1.85" stroke-linejoin="round"/>
<polygon points="845.3,788.8 865.8,787 886,789.5 943.9,797 975,795 983.9,788.8 999.9,776 1008.8,768.9 1015.9,772.4 1031.9,786.1 1042.5,794.1 1042.5,805.7 1026.5,810.1 1017.7,814.5 1007.9,816.3 999,812.8 988.3,808.3 978,805.7 958.1,805.7 927,808.3 917.3,807.4 896.8,804.8 856,805.7 845.3,804.8" fill="#f18881" fill-opacity="0.68"/>
<polyline points="845.3,795 1042.5,797.7" fill="none" stroke="#f0302c" stroke-width="1.85" stroke-linejoin="round"/>
<polygon points="845.3,787.9 866.6,787 876.4,785.2 886.2,788.8 895.1,793.2 925,793.5 935.9,792.3 946.6,791.4 976.8,795 1042.5,797.7 1042.5,806.6 927,805.7 896.8,804.8 866,802 845.3,805.7" fill="#6ddc78" fill-opacity="0.68"/>
<polyline points="845.3,795.9 1042.5,803" fill="none" stroke="#12c41e" stroke-width="1.85" stroke-linejoin="round"/>
<polyline points="845.3,774.6 856,775.1 868,777.5 884.4,783.4 893.3,788.8 903.1,793.2 911.9,792.3 919.9,785.2 935.9,771 943,763.9 952.8,763.9 973.2,766.6 982.1,771.4 990.1,778.1 1006.1,793.2 1042.5,797.7" fill="none" stroke="#6f8be0" stroke-width="2.8" stroke-linecap="round" stroke-dasharray="0 10.3" stroke-dashoffset="-1"/>
<polyline points="845.3,807.4 880,806.5 896,808.8 904.8,813.6 914.6,816.7 925.3,819 945.7,821.6 966.1,824.3 975.9,826.1 985.7,822.2 995.4,817.7 1007.9,816.3 1017.7,814.5 1035.4,815.4 1042.5,814.5" fill="none" stroke="#6f8be0" stroke-width="2.8" stroke-linecap="round" stroke-dasharray="0 10.3" stroke-dashoffset="-1"/>
<polyline points="845.3,789 853.3,782.5 861.3,776.3 868.4,769.2 877.3,762.1 886.2,757.7 896,753.2 911.9,741.7 915.5,732.8 918.2,722.1 927.4,692.5 936.8,662.3 943.9,642.6 949.3,643.1 958.1,648.4 976.8,660 983.9,653.8 999,638.7 1007,632.1 1013.7,632.8 1021.2,640.4 1035.1,656.1 1042.5,663.8" fill="none" stroke="#7a2db8" stroke-width="2.8" stroke-linecap="round" stroke-dasharray="0 10.3" stroke-dashoffset="-1"/>
<polyline points="845.3,797.7 863.1,791.4 880.9,782.5 889.7,777.2 899.5,772.8 908.4,767.5 915.5,760.9 928.8,745.2 942.2,728.7 951.9,727.5 961.7,729.6 971.5,731.9 981.2,730.1 990.1,726.2 1008.8,716.8 1017.7,720.7 1035.4,731.4 1042.5,734.6" fill="none" stroke="#7a2db8" stroke-width="2.8" stroke-linecap="round" stroke-dasharray="0 10.3" stroke-dashoffset="-1"/>
<polyline points="845.3,788.8 865.8,787 886,789.5 943.9,797 975,795 983.9,788.8 999.9,776 1008.8,768.9 1015.9,772.4 1031.9,786.1 1042.5,794.1" fill="none" stroke="#e23a36" stroke-width="2.8" stroke-linecap="round" stroke-dasharray="0 10.3" stroke-dashoffset="-1"/>
<polyline points="845.3,804.8 856,805.7 896.8,804.8 917.3,807.4 927,808.3 958.1,805.7 978,805.7 988.3,808.3 999,812.8 1007.9,816.3 1017.7,814.5 1026.5,810.1 1042.5,805.7" fill="none" stroke="#e23a36" stroke-width="2.8" stroke-linecap="round" stroke-dasharray="0 10.3" stroke-dashoffset="-1"/>
<polyline points="845.3,787.9 866.6,787 876.4,785.2 886.2,788.8 895.1,793.2 925,793.5 935.9,792.3 946.6,791.4 976.8,795 1042.5,797.7" fill="none" stroke="#1eb53a" stroke-width="2.8" stroke-linecap="round" stroke-dasharray="0 10.3" stroke-dashoffset="-1"/>
<polyline points="845.3,805.7 866,802 896.8,804.8 927,805.7 1042.5,806.6" fill="none" stroke="#1eb53a" stroke-width="2.8" stroke-linecap="round" stroke-dasharray="0 10.3" stroke-dashoffset="-1"/>
</g>
<text x="840.1" y="624.5" class="tk">6e+00</text>
<line x1="841.9" y1="624.1" x2="844.3" y2="624.1" stroke="#8a8a8a" stroke-width="1.3"/>
<text x="840.1" y="694.8" class="tk">4e+00</text>
<line x1="841.9" y1="694.4" x2="844.3" y2="694.4" stroke="#8a8a8a" stroke-width="1.3"/>
<text x="840.1" y="764.9" class="tk">2e+00</text>
<line x1="841.9" y1="764.5" x2="844.3" y2="764.5" stroke="#8a8a8a" stroke-width="1.3"/>
<text x="840.1" y="834.5" class="tk">0e+00</text>
<line x1="841.9" y1="834.1" x2="844.3" y2="834.1" stroke="#8a8a8a" stroke-width="1.3"/>
<rect x="772.9" y="566.3" width="287.5" height="31.6" fill="#fff" stroke="#0d0d0d" stroke-width="2"/>
<text x="916.5" y="592" class="tt">Adenosine</text>
</g>
<g class="panel">
<rect x="1090" y="602.6" width="282.2" height="282.4" fill="#fff" stroke="#cb5f14" stroke-width="2"/>
<rect x="1159.5" y="617.3" width="197.5" height="249.5" fill="#fff" stroke="#e6e6ea" stroke-width="1.1"/>
<clipPath id="c7"><rect x="1159" y="617.3" width="198.5" height="249.5"/></clipPath>
<g clip-path="url(#c7)">
<polygon points="1159.7,750.4 1164.9,729.9 1170.1,710.1 1175.4,689.9 1180.9,669.9 1186.4,649.4 1192.1,630.2 1196,637.3 1203.9,657.2 1212,675.8 1219.9,693.8 1223.8,705.6 1238,720.5 1244.2,728.4 1252.9,735 1260.7,740.9 1275.6,755.9 1290.6,770.8 1300.8,770 1311,768.4 1321.2,767.6 1331.4,768.4 1341.6,770 1357,769.2 1357,783.3 1347.9,784.9 1338,785.5 1327.5,784.1 1312,786 1296.1,786.5 1286.6,784.1 1277.2,779.4 1268.6,773.9 1258.4,767.6 1249.7,763.7 1239.5,761.4 1230.1,758.2 1221.5,751.1 1216,742.5 1208.9,735.4 1201.8,726.8 1197.1,718.9 1192.4,711.1 1175,731.5 1159.7,751.5" fill="#cd73e9" fill-opacity="0.68"/>
<polygon points="1159.7,753.5 1209.7,687.5 1217.5,678.9 1222.6,670.3 1230.1,664.4 1239.5,661.6 1249.7,660 1259.9,658.5 1270.1,661.1 1290.6,666.3 1298.4,671.8 1314.9,684.4 1331.4,697.7 1347.1,712.7 1357,722.1 1357,739.4 1352.6,736.2 1335.3,723.7 1318.8,711.9 1309.4,706.4 1292.1,695.4 1272.5,687.5 1262.3,684.4 1252.9,684.4 1233.2,692.2 1223.8,696.2 1210,709 1191.6,730 1159.7,759" fill="#f18881" fill-opacity="0.68"/>
<polygon points="1159.7,754.5 1177,750.5 1190,745.6 1199,739 1212.8,723.7 1221.5,718.2 1230.1,713.5 1239.5,709.5 1249.7,706.4 1259.9,704.8 1269.4,708 1289,715.8 1297.6,722.1 1306.3,727.6 1322.8,740.1 1330.6,747.2 1346.3,762.1 1357,772.3 1357,786.5 1354.2,784.9 1346,777.5 1336.1,772.3 1327.5,766.9 1311,755.1 1293.7,744.1 1265.4,729.9 1255.2,726.8 1245.8,728.1 1235.6,730.7 1226.2,733.1 1216,738.5 1207.3,744.9 1199.5,750.4 1190,755.4 1170,758.5 1159.7,761.4" fill="#6ddc78" fill-opacity="0.68"/>
<polygon points="1159.7,756.8 1258.4,770.1 1357,788.2 1357,795.4 1258.4,777.3 1159.7,764" fill="#a8b7f4" fill-opacity="0.68"/>
<polyline points="1159.7,750.4 1164.9,729.9 1170.1,710.1 1175.4,689.9 1180.9,669.9 1186.4,649.4 1192.1,630.2 1196,637.3 1203.9,657.2 1212,675.8 1219.9,693.8 1223.8,705.6 1238,720.5 1244.2,728.4 1252.9,735 1260.7,740.9 1275.6,755.9 1290.6,770.8 1300.8,770 1311,768.4 1321.2,767.6 1331.4,768.4 1341.6,770 1357,769.2" fill="none" stroke="#7a2db8" stroke-width="2.8" stroke-linecap="round" stroke-dasharray="0 10.3" stroke-dashoffset="-1"/>
<polyline points="1159.7,751.5 1175,731.5 1192.4,711.1 1197.1,718.9 1201.8,726.8 1208.9,735.4 1216,742.5 1221.5,751.1 1230.1,758.2 1239.5,761.4 1249.7,763.7 1258.4,767.6 1268.6,773.9 1277.2,779.4 1286.6,784.1 1296.1,786.5 1312,786 1327.5,784.1 1338,785.5 1347.9,784.9 1357,783.3" fill="none" stroke="#7a2db8" stroke-width="2.8" stroke-linecap="round" stroke-dasharray="0 10.3" stroke-dashoffset="-1"/>
<polyline points="1159.7,753.5 1209.7,687.5 1217.5,678.9 1222.6,670.3 1230.1,664.4 1239.5,661.6 1249.7,660 1259.9,658.5 1270.1,661.1 1290.6,666.3 1298.4,671.8 1314.9,684.4 1331.4,697.7 1347.1,712.7 1357,722.1" fill="none" stroke="#e23a36" stroke-width="2.8" stroke-linecap="round" stroke-dasharray="0 10.3" stroke-dashoffset="-1"/>
<polyline points="1159.7,759 1191.6,730 1210,709 1223.8,696.2 1233.2,692.2 1252.9,684.4 1262.3,684.4 1272.5,687.5 1292.1,695.4 1309.4,706.4 1318.8,711.9 1335.3,723.7 1352.6,736.2 1357,739.4" fill="none" stroke="#e23a36" stroke-width="2.8" stroke-linecap="round" stroke-dasharray="0 10.3" stroke-dashoffset="-1"/>
<polyline points="1159.7,754.5 1177,750.5 1190,745.6 1199,739 1212.8,723.7 1221.5,718.2 1230.1,713.5 1239.5,709.5 1249.7,706.4 1259.9,704.8 1269.4,708 1289,715.8 1297.6,722.1 1306.3,727.6 1322.8,740.1 1330.6,747.2 1346.3,762.1 1357,772.3" fill="none" stroke="#1eb53a" stroke-width="2.8" stroke-linecap="round" stroke-dasharray="0 10.3" stroke-dashoffset="-1"/>
<polyline points="1159.7,761.4 1170,758.5 1190,755.4 1199.5,750.4 1207.3,744.9 1216,738.5 1226.2,733.1 1235.6,730.7 1245.8,728.1 1255.2,726.8 1265.4,729.9 1293.7,744.1 1311,755.1 1327.5,766.9 1336.1,772.3 1346,777.5 1354.2,784.9 1357,786.5" fill="none" stroke="#1eb53a" stroke-width="2.8" stroke-linecap="round" stroke-dasharray="0 10.3" stroke-dashoffset="-1"/>
<polyline points="1159.7,756.8 1258.4,770.1 1357,788.2" fill="none" stroke="#6f8be0" stroke-width="2.8" stroke-linecap="round" stroke-dasharray="0 10.3" stroke-dashoffset="-1"/>
<polyline points="1159.7,764 1258.4,777.3 1357,795.4" fill="none" stroke="#6f8be0" stroke-width="2.8" stroke-linecap="round" stroke-dasharray="0 10.3" stroke-dashoffset="-1"/>
<polyline points="1159.7,745.6 1192.4,704.8 1225.4,710.3 1258.4,744.1 1289.8,777.1 1323.5,794.3 1357,769.2" fill="none" stroke="#9b1fd0" stroke-width="1.85" stroke-linejoin="round"/>
<polyline points="1159.7,756.6 1192.4,718.2 1225.4,689.1 1258.4,675.8 1291.4,678.9 1324.3,697.7 1357,733.1" fill="none" stroke="#f0302c" stroke-width="1.85" stroke-linejoin="round"/>
<polyline points="1159.7,758.2 1192.4,740.9 1225.4,726.8 1258.4,722.4 1291.4,728.4 1324.3,747.2 1357,780.2" fill="none" stroke="#12c41e" stroke-width="1.85" stroke-linejoin="round"/>
<polyline points="1159.7,759.8 1258.4,773.1 1357,791.2" fill="none" stroke="#6f8cf2" stroke-width="1.85" stroke-linejoin="round"/>
</g>
<text x="1153.7" y="643.6" class="tk">3e+00</text>
<line x1="1156.3" y1="643.2" x2="1158.7" y2="643.2" stroke="#8a8a8a" stroke-width="1.3"/>
<text x="1153.7" y="702.2" class="tk">2e+00</text>
<line x1="1156.3" y1="701.8" x2="1158.7" y2="701.8" stroke="#8a8a8a" stroke-width="1.3"/>
<text x="1153.7" y="761.4" class="tk">1e+00</text>
<line x1="1156.3" y1="761" x2="1158.7" y2="761" stroke="#8a8a8a" stroke-width="1.3"/>
<text x="1153.7" y="820.3" class="tk">0e+00</text>
<line x1="1156.3" y1="819.9" x2="1158.7" y2="819.9" stroke="#8a8a8a" stroke-width="1.3"/>
<rect x="1084.5" y="566.3" width="287.8" height="31.9" fill="#fff" stroke="#0d0d0d" stroke-width="2"/>
<text x="1228.7" y="592" class="tt">Fumarate</text>
</g>
<g class="panel">
<rect x="1445.8" y="598.5" width="283.7" height="283.9" fill="#fff" stroke="#672b9d" stroke-width="3.2"/>
<rect x="1516.2" y="614.5" width="197.4" height="249" fill="#fff" stroke="#e6e6ea" stroke-width="1.1"/>
<clipPath id="c8"><rect x="1515.7" y="614.5" width="198.4" height="249"/></clipPath>
<g clip-path="url(#c8)">
<polygon points="1516.5,830 1549.1,824.9 1582.5,815.9 1615.1,808 1647.6,800 1680.2,795.4 1713.3,795.8 1713.3,805.8 1680.2,804.4 1647.6,808 1615.1,815 1582.5,821.9 1549.1,829.9 1516.5,834" fill="#a8b7f4" fill-opacity="0.68"/>
<polyline points="1516.5,832 1549.1,827.4 1582.5,819 1615.1,811.6 1647.6,804.1 1680.2,800.1 1713.3,801" fill="none" stroke="#6f8cf2" stroke-width="1.85" stroke-linejoin="round"/>
<polygon points="1516.5,826.5 1527.7,815 1538.8,806 1549.1,800.4 1565.8,791.1 1586.3,781.8 1595.6,779 1615.1,771.6 1713.3,771.6 1713.3,791.1 1632.8,794.5 1612.3,795.8 1602.1,798.6 1581.6,803.2 1563,810.7 1553.7,815.3 1537.9,825.5 1516.5,835.5" fill="#f18881" fill-opacity="0.68"/>
<polyline points="1516.5,831.1 1549.1,808.8 1582.5,793 1615.1,784.6 1647.6,781.5 1680.2,781.5 1713.3,782.2" fill="none" stroke="#f0302c" stroke-width="1.85" stroke-linejoin="round"/>
<polygon points="1516.5,822.8 1534,812 1552,799.5 1565.2,791.1 1575.1,783.7 1584.4,777.2 1593.7,774.4 1604.9,771.6 1614.2,767 1632.8,758.6 1643,753.9 1662.5,748 1682.1,741.8 1690.4,735.3 1706.2,724.2 1713.3,720.4 1713.3,761.4 1706.2,764.2 1697.9,769.7 1687.6,774.4 1679.3,780 1647.6,787.4 1620.7,794.9 1610.4,797.6 1590.9,801.4 1580.7,805.1 1572.3,809.7 1563,815.3 1558.4,822.8 1547.2,830.2 1527.7,835.8 1516.5,839.5" fill="#6ddc78" fill-opacity="0.68"/>
<polyline points="1516.5,831.1 1549.1,811.6 1582.5,794.9 1615.1,781.8 1647.6,768.8 1680.2,755.8 1713.3,741.8" fill="none" stroke="#12c41e" stroke-width="1.85" stroke-linejoin="round"/>
<polygon points="1516.5,826 1527.7,811.6 1546.3,786.5 1565.2,761.4 1584.4,736.8 1603,712.1 1616,695.9 1624.4,689.8 1641.1,676.4 1657.9,663.7 1674.1,650.7 1691.4,638.6 1700.7,633 1713.3,626 1713.3,688.8 1702.5,689.4 1691.9,690.1 1682.1,692.2 1672.8,696.3 1663.5,701.5 1645.8,712.1 1628.1,723.2 1611.4,736.8 1596.5,750.2 1581.6,765.1 1559.3,787.4 1545.3,803.2 1530.5,819 1516.5,834" fill="#cd73e9" fill-opacity="0.68"/>
<polyline points="1516.5,830.2 1549.1,789.3 1582.5,750.2 1615.1,716.7 1647.6,689.8 1680.2,669.3 1713.3,657.8" fill="none" stroke="#9b1fd0" stroke-width="1.85" stroke-linejoin="round"/>
<polyline points="1516.5,830 1549.1,824.9 1582.5,815.9 1615.1,808 1647.6,800 1680.2,795.4 1713.3,795.8" fill="none" stroke="#6f8be0" stroke-width="2.8" stroke-linecap="round" stroke-dasharray="0 10.3" stroke-dashoffset="-1"/>
<polyline points="1516.5,834 1549.1,829.9 1582.5,821.9 1615.1,815 1647.6,808 1680.2,804.4 1713.3,805.8" fill="none" stroke="#6f8be0" stroke-width="2.8" stroke-linecap="round" stroke-dasharray="0 10.3" stroke-dashoffset="-1"/>
<polyline points="1516.5,826.5 1527.7,815 1538.8,806 1549.1,800.4 1565.8,791.1 1586.3,781.8 1595.6,779 1615.1,771.6 1713.3,771.6" fill="none" stroke="#e23a36" stroke-width="2.8" stroke-linecap="round" stroke-dasharray="0 10.3" stroke-dashoffset="-1"/>
<polyline points="1516.5,835.5 1537.9,825.5 1553.7,815.3 1563,810.7 1581.6,803.2 1602.1,798.6 1612.3,795.8 1632.8,794.5 1713.3,791.1" fill="none" stroke="#e23a36" stroke-width="2.8" stroke-linecap="round" stroke-dasharray="0 10.3" stroke-dashoffset="-1"/>
<polyline points="1516.5,822.8 1534,812 1552,799.5 1565.2,791.1 1575.1,783.7 1584.4,777.2 1593.7,774.4 1604.9,771.6 1614.2,767 1632.8,758.6 1643,753.9 1662.5,748 1682.1,741.8 1690.4,735.3 1706.2,724.2 1713.3,720.4" fill="none" stroke="#1eb53a" stroke-width="2.8" stroke-linecap="round" stroke-dasharray="0 10.3" stroke-dashoffset="-1"/>
<polyline points="1516.5,839.5 1527.7,835.8 1547.2,830.2 1558.4,822.8 1563,815.3 1572.3,809.7 1580.7,805.1 1590.9,801.4 1610.4,797.6 1620.7,794.9 1647.6,787.4 1679.3,780 1687.6,774.4 1697.9,769.7 1706.2,764.2 1713.3,761.4" fill="none" stroke="#1eb53a" stroke-width="2.8" stroke-linecap="round" stroke-dasharray="0 10.3" stroke-dashoffset="-1"/>
<polyline points="1516.5,826 1527.7,811.6 1546.3,786.5 1565.2,761.4 1584.4,736.8 1603,712.1 1616,695.9 1624.4,689.8 1641.1,676.4 1657.9,663.7 1674.1,650.7 1691.4,638.6 1700.7,633 1713.3,626" fill="none" stroke="#7a2db8" stroke-width="2.8" stroke-linecap="round" stroke-dasharray="0 10.3" stroke-dashoffset="-1"/>
<polyline points="1516.5,834 1530.5,819 1545.3,803.2 1559.3,787.4 1581.6,765.1 1596.5,750.2 1611.4,736.8 1628.1,723.2 1645.8,712.1 1663.5,701.5 1672.8,696.3 1682.1,692.2 1691.9,690.1 1702.5,689.4 1713.3,688.8" fill="none" stroke="#7a2db8" stroke-width="2.8" stroke-linecap="round" stroke-dasharray="0 10.3" stroke-dashoffset="-1"/>
</g>
<text x="1511" y="668.9" class="tk">9e+00</text>
<line x1="1513" y1="668.5" x2="1515.4" y2="668.5" stroke="#8a8a8a" stroke-width="1.3"/>
<text x="1511" y="730.8" class="tk">6e+00</text>
<line x1="1513" y1="730.4" x2="1515.4" y2="730.4" stroke="#8a8a8a" stroke-width="1.3"/>
<text x="1511" y="793.6" class="tk">3e+00</text>
<line x1="1513" y1="793.2" x2="1515.4" y2="793.2" stroke="#8a8a8a" stroke-width="1.3"/>
<text x="1511" y="855.5" class="tk">0e+00</text>
<line x1="1513" y1="855.1" x2="1515.4" y2="855.1" stroke="#8a8a8a" stroke-width="1.3"/>
<rect x="1444.5" y="566.8" width="287.8" height="31.8" fill="#fff" stroke="#0d0d0d" stroke-width="2"/>
<text x="1588.5" y="593.3" class="tt">Allantoate</text>
</g>
<g id="arrows">
<polyline points="482.8,320.5 482.8,144.9 1202,144.9" fill="none" stroke="#000" stroke-width="2.3"/>
<line x1="1200" y1="144.9" x2="1219" y2="144.9" stroke="#000" stroke-width="2.3"/><polygon points="1231,144.9 1218,151.6 1218,138.2" fill="#000"/>
<line x1="1388.8" y1="144.7" x2="1483.7" y2="144.7" stroke="#000" stroke-width="2.3"/><polygon points="1495.7,144.7 1482.7,151.4 1482.7,138" fill="#000"/>
<line x1="482.6" y1="493.5" x2="482.6" y2="399" stroke="#000" stroke-width="2.3"/><polygon points="482.6,387 489.3,400 475.9,400" fill="#000"/>
<line x1="482.6" y1="657" x2="482.6" y2="562.6" stroke="#000" stroke-width="2.3"/><polygon points="482.6,550.6 489.3,563.6 475.9,563.6" fill="#000"/>
<line x1="482.8" y1="833.8" x2="482.8" y2="739.3" stroke="#000" stroke-width="2.3"/><polygon points="482.8,727.3 489.5,740.3 476.1,740.3" fill="#000"/>
<line x1="482.4" y1="1097.4" x2="482.4" y2="907.5" stroke="#000" stroke-width="2.3"/><polygon points="482.4,895.5 489.1,908.5 475.7,908.5" fill="#000"/>
<line x1="728.9" y1="1097.4" x2="728.9" y2="918.5" stroke="#000" stroke-width="2.3"/><polygon points="728.9,906.5 735.6,919.5 722.2,919.5" fill="#000"/>
<line x1="681.6" y1="868" x2="587.2" y2="868" stroke="#000" stroke-width="2.3"/><polygon points="575.2,868 588.2,861.3 588.2,874.7" fill="#000"/>
<line x1="681.7" y1="1140.7" x2="586.4" y2="1140.7" stroke="#000" stroke-width="2.3"/><polygon points="574.4,1140.7 587.4,1134 587.4,1147.4" fill="#000"/>
<line x1="943.3" y1="973.1" x2="1038.7" y2="973.1" stroke="#000" stroke-width="2.3"/><polygon points="1050.7,973.1 1037.7,979.8 1037.7,966.4" fill="#000"/>
<path d="M786,977.5 C748,978 729.5,990 729.5,1002 C729.5,1016 750,1029 792.8,1029" fill="none" stroke="#000" stroke-width="1.6"/>
</g>
<g id="labels">
<text x="448.2" y="372.8" class="lb">Urate</text>
<text x="435.4" y="537.3" class="lb">Xanthine</text>
<text x="409.9" y="695.5" class="lb">Hypoxanthine</text>
<text x="451.4" y="871.2" class="lb">Inosine</text>
<text x="704.6" y="870.8" class="lb">IMP</text>
<text x="420.3" y="1150.1" class="lb">Adenosine</text>
<text x="704" y="1147.4" class="lb">AMP</text>
<text x="803.3" y="984.1" class="lb">Fumarate</text>
<text x="803.6" y="1038.5" class="lb">Aspartate</text>
<text x="1076.6" y="981.6" class="lb">Malate</text>
<text x="1257.5" y="153.4" class="lb">Allantoin</text>
<text x="1523.5" y="153.4" class="lb">Allantoate</text>
</g>
<rect x="1465" y="9.7" width="263.3" height="50.4" fill="#7030a0"/>
<text x="1483" y="45" class="lb" style="fill:#fff">Purine metabolism</text>
<g id="legend">
<rect x="1444.3" y="956.3" width="298.4" height="226.3" rx="33" ry="33" fill="#f2f2f2" stroke="#2f4b8f" stroke-width="2"/>
<circle cx="1482.5" cy="997.6" r="16.2" fill="#a31ddb"/>
<text x="1515.6" y="1007" class="lg">Guinea Pig</text>
<circle cx="1482.5" cy="1042.7" r="16.2" fill="#4472c4"/>
<text x="1515.6" y="1054.6" class="lg">Baboon</text>
<circle cx="1482.5" cy="1087.3" r="16.2" fill="#0fb050"/>
<text x="1515.6" y="1099" class="lg">Rhesus Macaque</text>
<circle cx="1482.5" cy="1132.9" r="16.2" fill="#f2121a"/>
<text x="1515.6" y="1147.7" class="lg">Human</text>
</g>
</svg></body></html>
